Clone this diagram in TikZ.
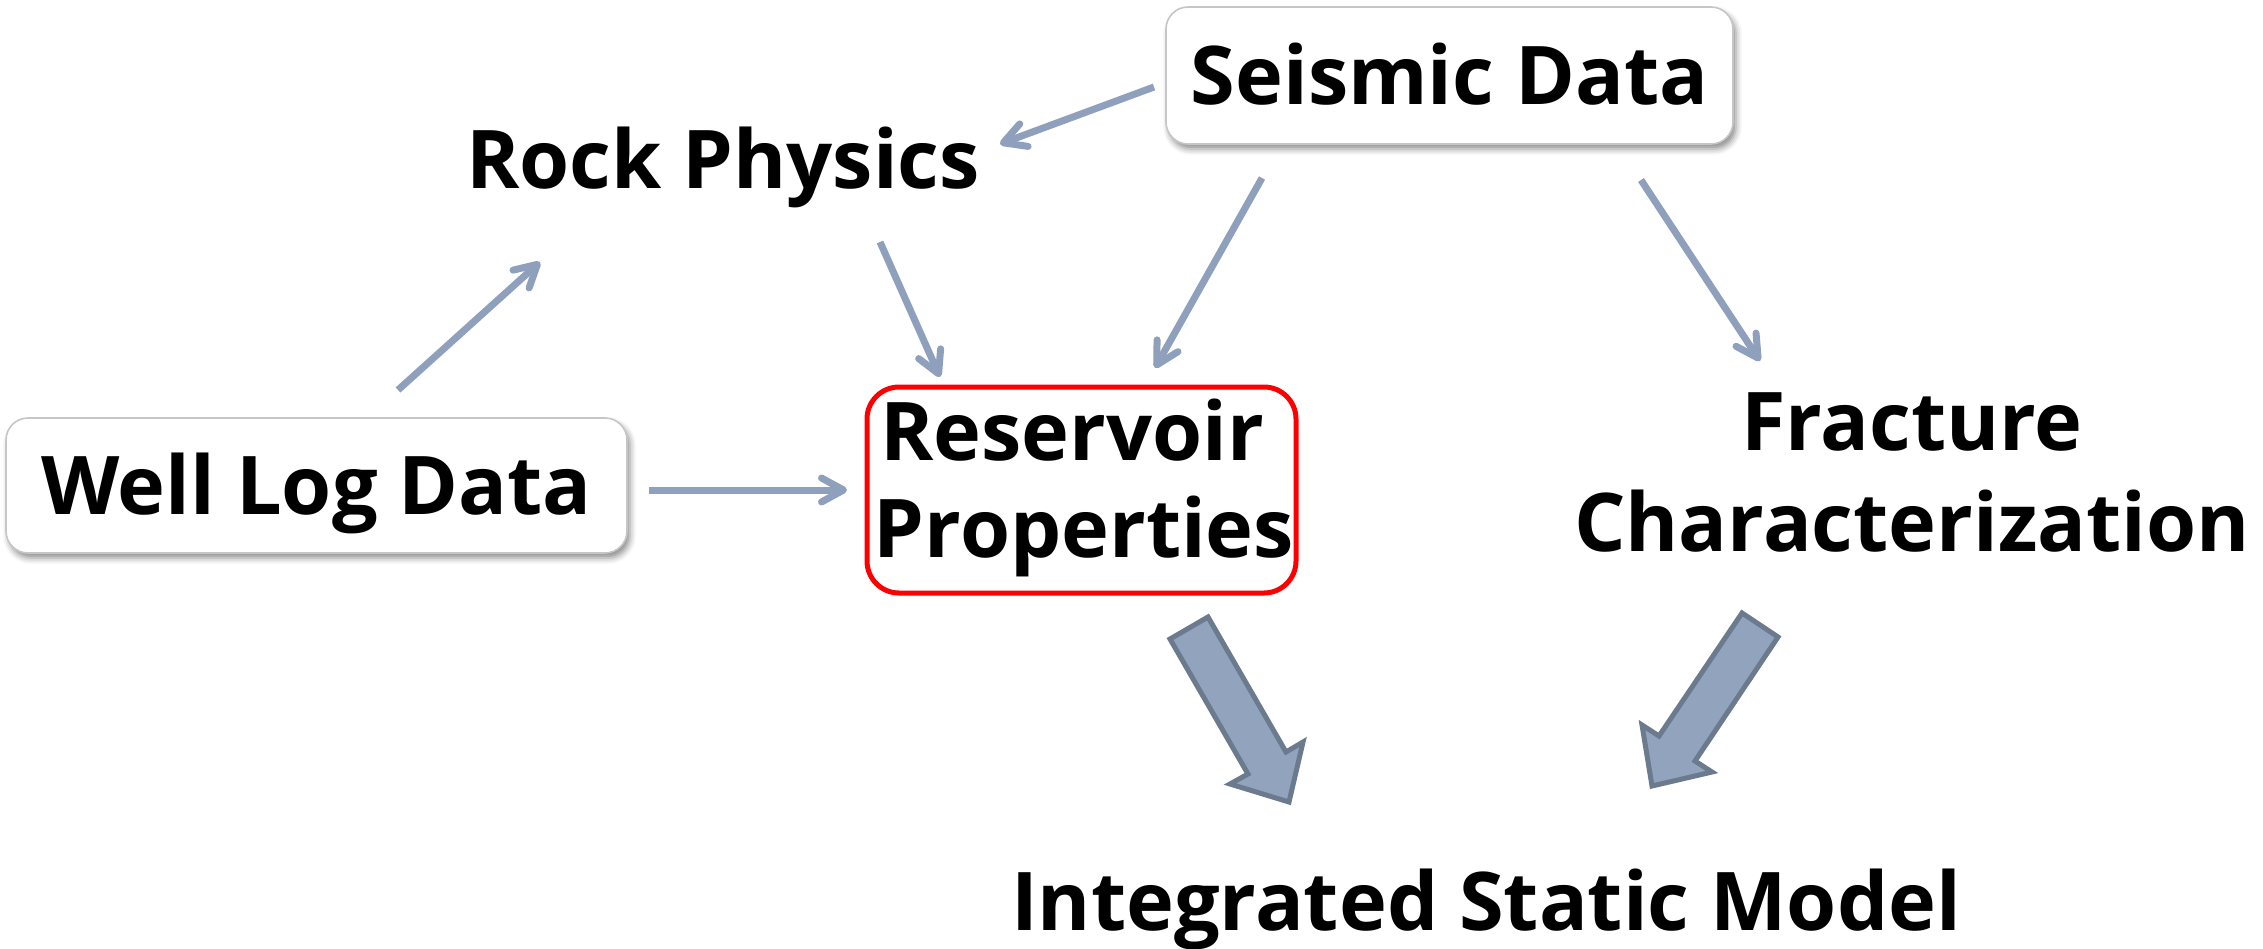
\documentclass[tikz,border=0pt]{standalone}
\usepackage{fontspec}
\setmainfont{Open Sans}
\usetikzlibrary{arrows.meta,shadows.blur}
\definecolor{arrowblue}{HTML}{8FA0BC}
\definecolor{bigfill}{HTML}{91A3BD}
\definecolor{bigline}{HTML}{6C7A8E}
\begin{document}
\begin{tikzpicture}[x=0.5pt,y=-0.5pt,
  lbl/.style={font=\bfseries\fontsize{40.5pt}{50.5pt}\selectfont, inner sep=0pt, text=black},
  glossbox/.style={lbl, draw=gray!45, line width=0.8pt, fill=white, rounded corners=11pt,
    blur shadow={shadow xshift=1.5pt, shadow yshift=-2.5pt, shadow blur radius=3pt, shadow opacity=45},
    text height=29pt, text depth=0pt},
  resbox/.style={lbl, font=\bfseries\fontsize{40.5pt}{48.5pt}\selectfont, draw=red, line width=2.5pt,
    rounded corners=16pt, fill=white, align=center},
  conn/.style={draw=arrowblue, line width=3.5pt, -{Straight Barb[length=11pt,width=12pt,round]}},
  bigarrow/.style={fill=bigfill, draw=bigline, line width=2.5pt, line join=miter}
]
\useasboundingbox (0,0) rectangle (2263,948);
\node[glossbox, minimum width=283.5pt, minimum height=68.5pt] (seis) at (1449.5,75.5) {Seismic Data};
\node[glossbox, minimum width=310.5pt, minimum height=67.5pt] (well) at (316.5,485.5) {Well Log Data};
\node[resbox, minimum width=214.5pt, minimum height=103pt] (res) at (1081.5,490) {};
\node[lbl, font=\bfseries\fontsize{40.5pt}{48.5pt}\selectfont, align=center] (restext) at (1084,488) {Reservoir\kern12pt\\Properties};
\node[lbl, anchor=base] (rock) at (723,188) {Rock Physics};
\node[lbl, align=center] (frac) at (1912,472) {Fracture\\Characterization};
\node[lbl, anchor=base] (ism) at (1486,930) {Integrated Static Model};

% connector end points
\coordinate (seisA) at (1154,87);   \coordinate (rockA) at (1000,144);
\coordinate (seisB) at (1262,178);  \coordinate (resB) at (1155,368);
\coordinate (rockC) at (880,242);   \coordinate (resC) at (940,377);
\coordinate (seisD) at (1641,180);  \coordinate (fracD) at (1760,361);
\coordinate (wellE) at (398,390);   \coordinate (rockE) at (540,262);
\coordinate (wellF) at (649,490);   \coordinate (resF) at (847,490);

\draw[conn] (seisA) -- (rockA);
\draw[conn] (seisB) -- (resB);
\draw[conn] (rockC) -- (resC);
\draw[conn] (seisD) -- (fracD);
\draw[conn] (wellE) -- (rockE);
\draw[conn] (wellF) -- (resF);

% block arrows into the integrated model
\draw[bigarrow] (1208,617) -- (1286,752) -- (1303,742) -- (1289,802) -- (1230,784) -- (1248,774) -- (1170,639) -- cycle;
\draw[bigarrow] (1778,637) -- (1695,761) -- (1712,772) -- (1652,786) -- (1642,725) -- (1659,736) -- (1742,613) -- cycle;
\end{tikzpicture}
\end{document}
